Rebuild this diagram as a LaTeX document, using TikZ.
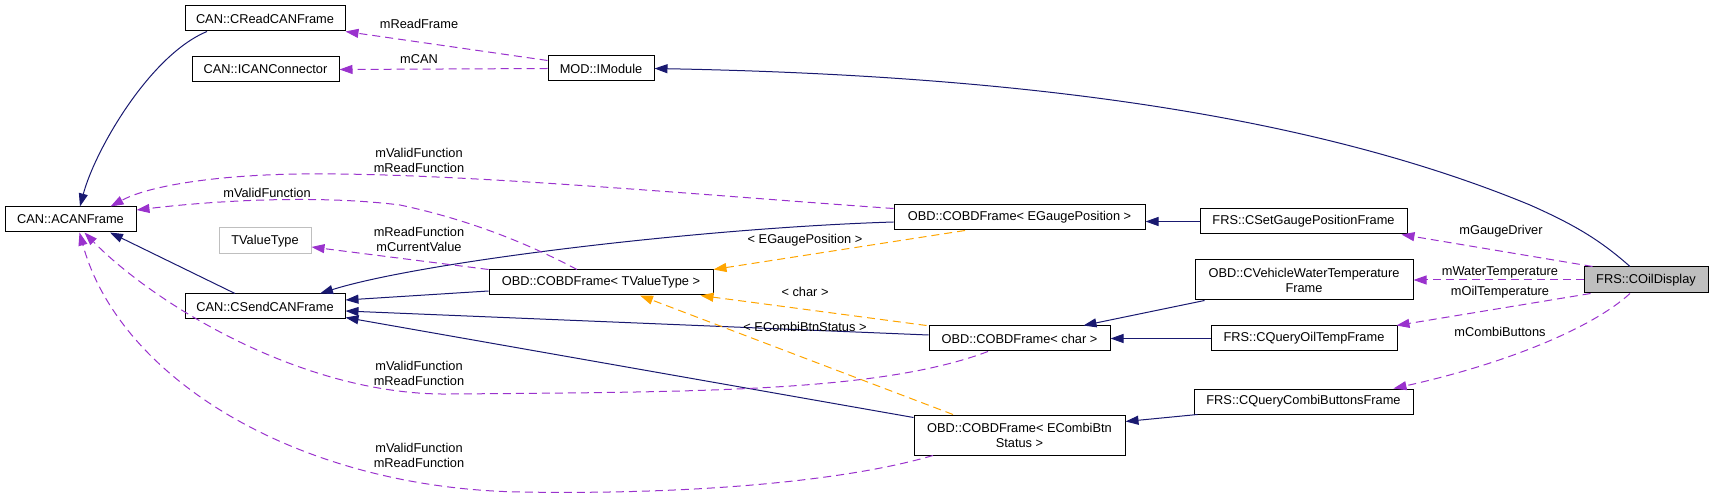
\documentclass[tikz,border=0pt]{standalone}
\usepackage{fontspec}
\setmainfont{Liberation Sans}
\usetikzlibrary{arrows.meta,calc}
\definecolor{navy}{HTML}{191970}
\definecolor{orchid}{HTML}{9A32CD}
\definecolor{orng}{HTML}{FFA500}
\definecolor{grayb}{HTML}{BFBFBF}
\begin{document}
\begin{tikzpicture}[x=1pt,y=-1pt,
  txt/.style={font=\fontsize{12.8}{15}\selectfont},
  box/.style={txt, draw=black, line width=1pt, inner sep=0pt, minimum height=25pt, align=center},
  lbl/.style={txt, inner sep=0pt, align=center},
  tipT/.style={-{Triangle[length=13pt,width=9pt]}},
  inh/.style={tipT, draw=navy, fill=none, line width=1pt},
  mem/.style={tipT, draw=orchid, line width=1pt, dash pattern=on 8pt off 5pt},
  tpl/.style={tipT, draw=orng, line width=1pt, dash pattern=on 8pt off 5pt}]
\useasboundingbox (0,0) rectangle (1713,502);

% nodes
\node[box, minimum width=160pt] (read) at (265,18.5) {CAN::CReadCANFrame};
\node[box, minimum width=147pt] (icon) at (265.5,69.5) {CAN::ICANConnector};
\node[box, minimum width=106pt] (imod) at (601,68.5) {MOD::IModule};
\node[box, minimum width=131pt] (acan) at (70.5,219.5) {CAN::ACANFrame};
\node[box, draw=grayb, minimum width=92pt, minimum height=26pt] (tvt) at (265,241) {TValueType};
\node[box, minimum width=160pt] (send) at (265,306.5) {CAN::CSendCANFrame};
\node[box, minimum width=224pt] (ftv) at (601,282.5) {OBD::COBDFrame< TValueType >};
\node[box, minimum width=251pt] (fgp) at (1019.5,217.5) {OBD::COBDFrame< EGaugePosition >};
\node[box, minimum width=181pt] (fch) at (1019.5,338.5) {OBD::COBDFrame< char >};
\node[box, minimum width=211pt, minimum height=40pt] (fcb) at (1019.5,435) {OBD::COBDFrame< ECombiBtn\\Status >};
\node[box, minimum width=207pt] (sgp) at (1303.5,221.5) {FRS::CSetGaugePositionFrame};
\node[box, minimum width=218pt, minimum height=40pt] (vwt) at (1304,280) {OBD::CVehicleWaterTemperature\\Frame};
\node[box, minimum width=186pt] (qot) at (1304,338.5) {FRS::CQueryOilTempFrame};
\node[box, minimum width=219pt] (qcb) at (1303.5,401.5) {FRS::CQueryCombiButtonsFrame};
\node[box, fill=grayb, minimum width=124pt, minimum height=26pt] (oil) at (1646,280) {FRS::COilDisplay};

% inheritance (navy)
\draw[inh] ($(read.south)+(-58,0)$) .. controls (150,55) and (95,150) .. ($(acan.north)+(9.5,0)$);
\draw[inh] ($(send.north)+(-30,0)$) -- ($(acan.south)+(39.5,0)$);
\draw[inh] ($(ftv.west)+(0,8.5)$) -- ($(send.east)+(0,-6.5)$);
\draw[inh] ($(fgp.west)+(0,4.5)$) .. controls (700,228) and (420,262) .. ($(send.north)+(55,0)$);
\draw[inh] ($(fch.west)+(0,-3.5)$) -- ($(send.east)+(0,4.5)$);
\draw[inh] ($(fcb.north west)+(0,3)$) -- ($(send.south east)+(0,-2)$);
\draw[inh] (sgp.west) -- (sgp.west -| fgp.east);
\draw[inh] ($(vwt.south west)+(10,0)$) -- ($(fch.north east)+(-27,0)$);
\draw[inh] (qot.west) -- (fch.east);
\draw[inh] ($(qcb.south west)+(4,0)$) -- ($(fcb.north east)+(0,7)$);
\draw[inh] ($(oil.north)+(-16,0)$) .. controls (1600,240) and (1575,225) .. (1530,205)
   .. controls (1300,110) and (1000,75) .. (imod.east);

% members (purple)
\draw[mem] ($(imod.west)+(0,-8)$) -- (read.south east);
\draw[mem] (imod.west) -- (icon.east);
\draw[mem] ($(fgp.north west)+(0,4)$) .. controls (700,195) and (450,172) .. (300,174)
   .. controls (220,175) and (150,185) .. ($(acan.north)+(40,0)$);
\draw[mem] ($(ftv.north)+(-24,0)$) .. controls (540,250) and (480,222) .. (400,205)
   .. controls (320,195) and (220,200) .. ($(acan.east)+(0,-9.5)$);
\draw[mem] (ftv.north west) -- ($(tvt.east)+(0,6)$);
\draw[mem] ($(fch.south)+(-31.5,0)$) .. controls (880,392) and (700,392) .. (450,394)
   .. controls (300,396) and (150,300) .. ($(acan.south)+(14,0)$);
\draw[mem] ($(fcb.south)+(-86.5,0)$) .. controls (850,480) and (700,495) .. (520,492)
   .. controls (300,488) and (120,380) .. ($(acan.south)+(9,0)$);
\draw[mem] ($(oil.north west)+(9,0)$) -- ($(sgp.south east)+(-6,0)$);
\draw[mem] (oil.west) -- (vwt.east);
\draw[mem] ($(oil.south west)+(7,0)$) -- ($(qot.north east)+(-1,0)$);
\draw[mem] ($(oil.south)+(-16,0)$) .. controls (1590,330) and (1500,365) .. ($(qcb.north east)+(-20,0)$);

% template instantiation (orange)
\draw[tpl] ($(fgp.south)+(-54.5,0)$) -- (ftv.north east);
\draw[tpl] ($(fch.north west)+(-2,0)$) -- ($(ftv.south east)+(-13,0)$);
\draw[tpl] ($(fcb.north)+(-66.5,0)$) -- ($(ftv.south)+(39,0)$);

% labels
\node[lbl] (l1) at (419,24) {mReadFrame};
\node[lbl] (l2) at (419,59) {mCAN};
\node[lbl] (l3) at (419,160) {mValidFunction\\mReadFunction};
\node[lbl] (l4) at (267,193) {mValidFunction};
\node[lbl] (l5) at (419,239) {mReadFunction\\mCurrentValue};
\node[lbl] (l6) at (419,373) {mValidFunction\\mReadFunction};
\node[lbl] (l7) at (419,455) {mValidFunction\\mReadFunction};
\node[lbl] (l8) at (805,240) {< EGaugePosition >};
\node[lbl] (l9) at (805,292) {< char >};
\node[lbl] (l10) at (805,327) {< ECombiBtnStatus >};
\node[lbl] (l11) at (1501,231) {mGaugeDriver};
\node[lbl] (l12) at (1500,272) {mWaterTemperature};
\node[lbl] (l13) at (1500,292) {mOilTemperature};
\node[lbl] (l14) at (1500,332) {mCombiButtons};
\end{tikzpicture}
\end{document}
